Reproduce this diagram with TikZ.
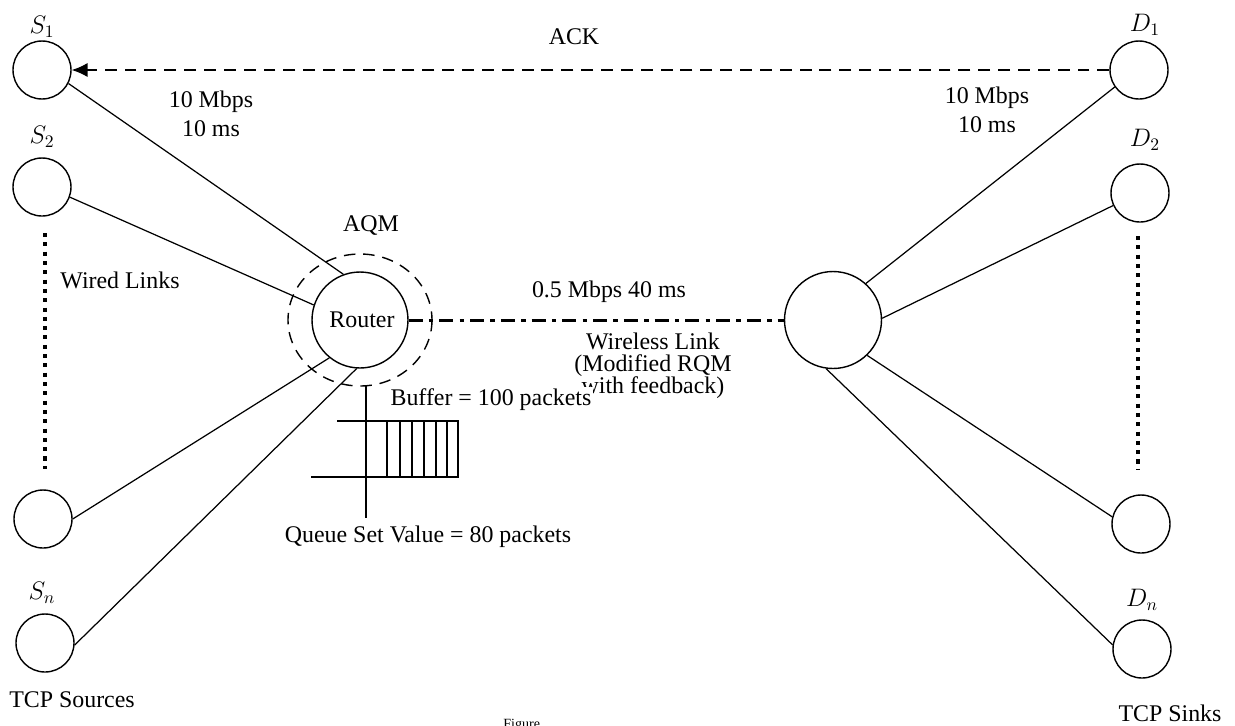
\documentclass[tikz,border=0pt]{standalone}
\usepackage{fontspec}
\setmainfont{Liberation Serif}
\usetikzlibrary{arrows.meta}
\tikzset{
  host/.style={circle,draw,line width=0.8pt,inner sep=0pt,minimum size=1.16cm},
  hub/.style={circle,draw,line width=0.8pt,inner sep=0pt,minimum size=1.94cm},
  wire/.style={line width=0.7pt},
  dotline/.style={line width=2.3pt,dash pattern=on 2.3pt off 3pt},
  txt/.style={font=\fontsize{13.6pt}{16.4pt}\selectfont,align=center,inner sep=1pt}
}
\begin{document}
\begin{tikzpicture}[x=0.02cm,y=-0.02cm]
  \useasboundingbox (0,0) rectangle (1235,725);
  % sources
  \node[host] (s1) at (42,70) {};
  \node[host] (s2) at (42,187) {};
  \node[host] (s3) at (43,519) {};
  \node[host] (sn) at (45,643) {};
  \node[txt] (ls1) at (42,27) {$S_1$};
  \node[txt] (ls2) at (42,137) {$S_2$};
  \node[txt] (lsn) at (42,593) {$S_n$};
  \draw[dotline] (45,233) -- (45,469);
  % sinks
  \node[host] (d1) at (1139,70) {};
  \node[host] (d2) at (1140,193) {};
  \node[host] (d3) at (1141,524) {};
  \node[host] (dn) at (1142,649) {};
  \node[txt] (ld1) at (1145,25) {$D_1$};
  \node[txt] (ld2) at (1145,140) {$D_2$};
  \node[txt] (ldn) at (1142,600) {$D_n$};
  \draw[dotline] (1138,236) -- (1138,470);
  % router and far node
  \node[hub,minimum size=1.92cm] (router) at (360,320) {};
  \node[txt] (rtxt) at (362,320) {Router};
  \draw[line width=0.8pt,dash pattern=on 6.5pt off 4.5pt] (router.center) ellipse [x radius=72,y radius=66];
  \node[txt] (aqm) at (371,226) {AQM};
  \node[hub] (far) at (833,320) {};
  % wired links
  \draw[wire] (s1.-27) -- (router.110);
  \draw[wire] (s2.-20) -- (router.162);
  \draw[wire] (s3.0) -- (router.231);
  \draw[wire] (sn.-4) -- (router.266);
  \draw[wire] (far.48) -- (d1.215);
  \draw[wire] (far.2) -- (d2.205);
  \draw[wire] (far.-46) -- (d3.166);
  \draw[wire] (far.262) -- (dn.172);
  % wireless link
  \draw[line width=1.7pt,dash pattern=on 8pt off 3.5pt on 2.5pt off 3.5pt] (router.east) -- (far.west);
  \node[txt] (bw) at (609,292) {0.5 Mbps 40 ms};
  \node[txt,font=\fontsize{13.6pt}{12.6pt}\selectfont] (wl) at (653,366) {Wireless Link\\(Modified RQM\\with feedback)};
  % ack
  \draw[line width=0.8pt,dash pattern=on 6.8pt off 4.5pt,-{Latex[length=9pt,width=8pt]}] (d1.west) -- (s1.east);
  \node[txt] (ack) at (574,37) {ACK};
  \node[txt] (lk1) at (211,114) {10 Mbps\\10 ms};
  \node[txt] (lk2) at (987,110) {10 Mbps\\10 ms};
  \node[txt] (wired) at (120,280) {Wired Links};
  % buffer
  \node[txt,fill=white] (buf) at (491,400) {Buffer = 100 packets};
  \draw[wire] (337,421) -- (458,421) -- (458,477) -- (311,477);
  \draw[wire] (366,386) -- (366,518);
  \foreach \x in {387,400,412,424,436,447}
    \draw[wire] (\x,421) -- (\x,477);
  \node[txt] (qsv) at (428,537) {Queue Set Value = 80 packets};
  \node[txt] (src) at (72,700) {TCP Sources};
  \node[txt] (snk) at (1170,713) {TCP Sinks};
  \node[anchor=north west,font=\fontsize{8pt}{9pt}\selectfont,inner sep=0pt] (fig) at (503,719) {Figure};
\end{tikzpicture}
\end{document}
